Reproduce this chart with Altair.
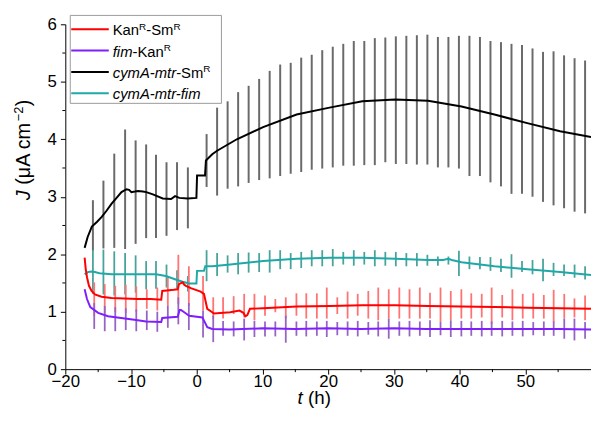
import altair as alt
import pandas as pd

# ---------------- data ----------------
NAMES = ["KanR-SmR", "fim-KanR", "cymA-mtr-SmR", "cymA-mtr-fim"]

red_t = [-17.06, -16.9, -16.7, -16.4, -16.0, -15.5, -14.5, -13.0, -11.0, -9.0,
         -7.0, -5.4, -5.25, -3.5, -2.9, -2.7, -2.15, -1.9, -1.65, -0.9,
         0.6, 1.1, 1.6, 2.36, 2.6, 5.1, 6.5, 7.1, 7.4, 7.7,
         8.1, 10.1, 15.2, 20.2, 25.2, 30.2, 35.2, 40.3, 45.3, 50.3, 55.3, 60.0]
red_v = [1.94, 1.75, 1.60, 1.45, 1.36, 1.30, 1.26, 1.24, 1.23, 1.22,
         1.22, 1.21, 1.36, 1.38, 1.39, 1.48, 1.51, 1.47, 1.45, 1.41,
         1.35, 1.31, 1.05, 0.99, 0.97, 0.99, 1.02, 0.98, 0.92, 0.94,
         1.05, 1.06, 1.09, 1.10, 1.11, 1.11, 1.10, 1.09, 1.08, 1.07, 1.06, 1.05]

purple_t = [-17.06, -16.7, -16.2, -15.0, -13.5, -11.5, -9.5, -7.7, -5.4, -5.25,
            -2.9, -2.6, -2.4, -1.9, -1.15, 0.86, 1.6, 2.36, 5.0, 10.0,
            15.0, 20.0, 25.0, 30.0, 35.0, 40.0, 45.0, 50.0, 55.0, 60.0]
purple_v = [1.39, 1.22, 1.08, 0.98, 0.92, 0.89, 0.86, 0.83, 0.82, 0.89,
            0.91, 1.03, 1.03, 0.99, 0.93, 0.90, 0.73, 0.70, 0.69, 0.71,
            0.70, 0.71, 0.70, 0.71, 0.70, 0.70, 0.70, 0.70, 0.70, 0.69]

black_t = [-17.06, -16.6, -15.96, -15.2, -14.46, -13.7, -12.95, -12.2, -11.45, -10.69,
           -10.3, -9.94, -9.4, -8.93, -8.2, -7.68, -6.67, -5.17, -3.9, -3.3,
           -2.65, -1.4, -0.05, 0.05, 1.26, 1.4, 2.36, 3.1, 6.1, 10.1,
           15.2, 20.2, 25.2, 30.2, 35.2, 40.3, 45.3, 50.3, 55.3, 60.0]
black_v = [2.11, 2.30, 2.48, 2.56, 2.65, 2.76, 2.88, 2.98, 3.08, 3.13,
           3.12, 3.08, 3.09, 3.10, 3.09, 3.08, 3.04, 2.97, 2.96, 3.01,
           2.98, 2.97, 2.98, 3.37, 3.37, 3.63, 3.74, 3.80, 4.00, 4.21,
           4.43, 4.55, 4.66, 4.69, 4.67, 4.57, 4.43, 4.28, 4.14, 4.04]

teal_t = [-17.06, -16.5, -16.0, -15.5, -14.8, -12.95, -10.0, -8.2, -6.2, -4.7,
          -3.2, -2.15, -1.15, -0.05, 0.05, 1.1, 1.3, 2.36, 5.1, 10.1,
          15.2, 20.2, 25.2, 30.2, 35.2, 37.5, 38.3, 38.8, 40.3, 45.3,
          50.3, 55.3, 60.0]
teal_v = [1.65, 1.69, 1.70, 1.69, 1.67, 1.65, 1.65, 1.65, 1.65, 1.62,
          1.56, 1.52, 1.49, 1.49, 1.71, 1.71, 1.79, 1.79, 1.82, 1.88,
          1.92, 1.94, 1.94, 1.92, 1.90, 1.90, 1.92, 1.90, 1.86, 1.79,
          1.74, 1.69, 1.64]

# error bars (t, low end, high end)
bk_bar_t = [-15.8, -14.2, -12.55, -10.9, -9.3, -7.7, -6.2, -4.6, -3.0, -1.35,
            1.5, 3.1, 4.7, 6.3, 7.9, 9.5, 11.1, 12.7, 14.3, 15.9,
            17.5, 19.1, 20.7, 22.3, 23.9, 25.5, 27.1, 28.7, 30.3, 31.9,
            33.5, 35.1, 36.7, 38.3, 39.9, 41.5, 43.1, 44.7, 46.3, 47.9,
            49.5, 51.1, 52.7, 54.3, 55.9, 57.5, 59.1]
black_lo = [2.06, 2.10, 2.11, 2.09, 2.18, 2.28, 2.28, 2.32, 2.42, 2.45,
            3.17, 3.02, 3.14, 3.18, 3.24, 3.29, 3.32, 3.36, 3.40, 3.43,
            3.47, 3.49, 3.51, 3.54, 3.54, 3.55, 3.55, 3.60, 3.57, 3.57,
            3.56, 3.56, 3.51, 3.51, 3.49, 3.36, 3.36, 3.25, 3.18, 3.05,
            3.05, 3.00, 2.91, 2.85, 2.80, 2.74, 2.71]
black_hi = [2.94, 3.28, 3.75, 4.17, 3.98, 3.91, 3.73, 3.60, 3.60, 3.51,
            4.09, 4.55, 4.66, 4.82, 4.93, 5.05, 5.19, 5.30, 5.33, 5.42,
            5.47, 5.55, 5.61, 5.66, 5.71, 5.71, 5.76, 5.77, 5.79, 5.80,
            5.81, 5.82, 5.78, 5.78, 5.80, 5.80, 5.78, 5.71, 5.69, 5.66,
            5.64, 5.58, 5.52, 5.53, 5.46, 5.41, 5.37]
teal_lo = [1.31, 1.30, 1.28, 1.30, 1.33, 1.39, 1.40, 1.42, 1.40, 1.35,
           1.53, 1.62, 1.68, 1.65, 1.68, 1.69, 1.68, 1.74, 1.74, 1.76,
           1.79, 1.79, 1.79, 1.82, 1.80, 1.82, 1.79, 1.80, 1.79, 1.79,
           1.79, 1.80, 1.80, 1.82, 1.62, 1.74, 1.74, 1.71, 1.69, 1.59,
           1.69, 1.65, 1.53, 1.62, 1.62, 1.59, 1.56]
teal_hi = [2.07, 2.08, 2.05, 2.02, 1.98, 1.88, 1.88, 1.82, 1.72, 1.62,
           2.07, 2.02, 1.98, 2.02, 2.03, 2.02, 2.07, 2.07, 2.02, 2.04,
           2.07, 2.07, 2.09, 2.04, 2.07, 2.04, 2.07, 2.04, 2.04, 2.02,
           2.02, 1.99, 1.96, 1.96, 2.06, 1.96, 1.95, 1.95, 1.92, 2.00,
           1.88, 1.90, 1.92, 1.85, 1.82, 1.82, 1.79]

rp_bar_t = [-15.6, -14.0, -12.4, -10.8, -9.2, -7.6, -6.0, -4.4, -2.8, -1.2,
            0.96, 2.51, 4.01, 5.62, 7.22, 8.78, 10.39, 11.96, 13.55, 15.17,
            16.67, 18.28, 19.79, 21.39, 22.96, 24.5, 26.11, 27.62, 29.22, 30.83,
            32.38, 33.95, 35.5, 37.1, 38.66, 40.27, 41.78, 43.37, 44.88, 46.49,
            48.04, 49.61, 51.21, 52.82, 54.32, 55.93, 57.48, 59.1]
red_lo = [0.93, 0.97, 0.99, 0.98, 1.00, 1.05, 1.02, 1.10, 1.13, 1.10,
          1.02, 0.88, 0.88, 0.96, 0.90, 0.85, 0.93, 0.99, 0.88, 0.93,
          0.88, 0.88, 0.88, 0.96, 0.88, 0.93, 0.88, 0.85, 0.88, 0.88,
          0.88, 0.88, 0.88, 0.82, 0.85, 0.88, 0.88, 0.90, 0.79, 0.90,
          0.85, 0.88, 0.88, 0.88, 0.82, 0.88, 0.90, 0.85]
red_hi = [1.51, 1.48, 1.45, 1.47, 1.44, 1.39, 1.42, 1.62, 1.99, 1.79,
          1.62, 1.25, 1.25, 1.27, 1.31, 1.31, 1.28, 1.22, 1.25, 1.32,
          1.32, 1.32, 1.42, 1.25, 1.35, 1.31, 1.36, 1.42, 1.39, 1.42,
          1.39, 1.42, 1.33, 1.42, 1.36, 1.39, 1.32, 1.31, 1.42, 1.29,
          1.39, 1.31, 1.32, 1.29, 1.38, 1.31, 1.23, 1.28]
purple_lo = [0.70, 0.66, 0.66, 0.68, 0.66, 0.68, 0.65, 0.72, 0.78, 0.68,
             0.55, 0.47, 0.58, 0.57, 0.50, 0.56, 0.57, 0.57, 0.46, 0.58,
             0.57, 0.58, 0.56, 0.59, 0.58, 0.57, 0.60, 0.57, 0.53, 0.58,
             0.57, 0.58, 0.56, 0.59, 0.56, 0.57, 0.58, 0.57, 0.58, 0.57,
             0.58, 0.57, 0.59, 0.58, 0.58, 0.53, 0.50, 0.53]
purple_hi = [1.15, 1.10, 1.08, 1.06, 1.04, 1.02, 1.00, 1.10, 1.25, 1.15,
             1.02, 0.93, 0.84, 0.83, 0.88, 0.84, 0.83, 0.83, 0.93, 0.83,
             0.84, 0.83, 0.84, 0.82, 0.83, 0.84, 0.82, 0.83, 0.88, 0.83,
             0.84, 0.83, 0.85, 0.82, 0.85, 0.84, 0.83, 0.84, 0.83, 0.84,
             0.83, 0.84, 0.82, 0.83, 0.83, 0.88, 0.88, 0.82]

x_ticks = [-20, -10, 0, 10, 20, 30, 40, 50]
x_minor = [-15, -5, 5, 15, 25, 35, 45, 55]
y_ticks = [0, 1, 2, 3, 4, 5, 6]
y_minor = [0.5, 1.5, 2.5, 3.5, 4.5, 5.5]

# ---------------- style ----------------
FONT = "Liberation Sans"
W, H = 532, 349
LINE_COL = {"red": "#ff0000", "purple": "#7f1fff", "black": "#000000", "teal": "#1fa9a6"}
BAR_COL = {"red": "#ff7373", "purple": "#9665c4", "black": "#6a6a6a", "teal": "#48a39c"}

xaxis = alt.Axis(values=x_ticks, title="", grid=False, tickSize=5, tickColor="black",
                 domainColor="black", labelColor="black", labelFont=FONT,
                 labelFontSize=17, labelPadding=0, labelFlush=False)
yaxis = alt.Axis(values=y_ticks, title="", grid=False, tickSize=5, tickColor="black",
                 domainColor="black", labelColor="black", labelFont=FONT,
                 labelFontSize=17, labelPadding=4)
xscale = alt.Scale(domain=[-20, 60], nice=False, zero=False)
yscale = alt.Scale(domain=[0, 6], nice=False, zero=False)


def X(f):
    return alt.X(f, type="quantitative", scale=xscale, axis=xaxis)


def Y(f):
    return alt.Y(f, type="quantitative", scale=yscale, axis=yaxis)


def line_layer(t, v, key):
    df = pd.DataFrame({"t": t, "v": v, "i": list(range(len(t)))})
    return alt.Chart(df).mark_line(color=LINE_COL[key], strokeWidth=2).encode(
        x=X("t"), y=Y("v"), order=alt.Order("i:Q"))


def bar_layer(t, lo, hi, key, width=1.8):
    df = pd.DataFrame({"t": t, "lo": lo, "hi": hi})
    return alt.Chart(df).mark_rule(color=BAR_COL[key], strokeWidth=width).encode(
        x=X("t"), y=Y("lo"), y2=alt.Y2("hi"))


layers = [
    bar_layer(bk_bar_t, black_lo, black_hi, "black", 2),
    bar_layer(bk_bar_t, teal_lo, teal_hi, "teal"),
    bar_layer(rp_bar_t, red_lo, red_hi, "red"),
    bar_layer(rp_bar_t, purple_lo, purple_hi, "purple"),
    line_layer(black_t, black_v, "black"),
    line_layer(teal_t, teal_v, "teal"),
    line_layer(red_t, red_v, "red"),
    line_layer(purple_t, purple_v, "purple"),
]

# minor ticks
layers.append(alt.Chart(pd.DataFrame({"t": x_minor})).mark_rule(color="black", strokeWidth=1).encode(
    x=X("t"), y=alt.value(H), y2=alt.value(H + 3)))
layers.append(alt.Chart(pd.DataFrame({"v": y_minor})).mark_rule(color="black", strokeWidth=1).encode(
    y=Y("v"), x=alt.value(0), x2=alt.value(-3)))

# ---------------- text helpers ----------------
ADV = {' ': 278, '(': 333, ')': 333, '-': 333, 'A': 667, 'K': 667, 'R': 722,
       'S': 667, 'J': 500, 'a': 556, 'c': 500, 'f': 278, 'h': 556, 'i': 222, 'm': 833,
       'n': 556, 'r': 333, 't': 278, 'y': 500, 'μ': 576, '−': 584, '2': 556}


def tw(s, size):
    return sum(ADV.get(ch, 556) for ch in s) * size / 1000.0


dummy = pd.DataFrame({"a": [0]})


def text(s, x, y, size, italic=False, angle=None):
    kw = dict(align="left", baseline="alphabetic", font=FONT, fontSize=size, color="black")
    if italic:
        kw["fontStyle"] = "italic"
    if angle is not None:
        kw["angle"] = angle
    return alt.Chart(dummy).mark_text(**kw).encode(
        x=alt.value(x), y=alt.value(y), text=alt.value(s))


# ---------------- legend ----------------
LEG_FS, SUP_FS = 15, 10
layers.append(alt.Chart(dummy).mark_rect(fill="white", stroke="#9a9a9a", strokeWidth=1).encode(
    x=alt.value(5), x2=alt.value(158), y=alt.value(-9), y2=alt.value(80)))
legend_rows = [
    ("red", [("Kan", "n"), ("R", "s"), ("-Sm", "n"), ("R", "s")]),
    ("purple", [("fim", "i"), ("-Kan", "n"), ("R", "s")]),
    ("black", [("cymA-mtr", "i"), ("-Sm", "n"), ("R", "s")]),
    ("teal", [("cymA-mtr-fim", "i")]),
]
for k, (key, segs) in enumerate(legend_rows):
    ry = 5 + 21.6 * k
    layers.append(alt.Chart(dummy).mark_rule(color=LINE_COL[key], strokeWidth=2).encode(
        x=alt.value(6), x2=alt.value(44), y=alt.value(ry)))
    cx = 48
    for s, st in segs:
        if st == "s":
            layers.append(text(s, cx, ry + 0.5, SUP_FS))
            cx += tw(s, SUP_FS)
        else:
            layers.append(text(s, cx, ry + 6, LEG_FS, italic=(st == "i")))
            cx += tw(s, LEG_FS)

# ---------------- axis titles ----------------
TFS = 20
XFS = 19
layers.append(text("t", 235, 384, XFS, italic=True))
layers.append(text("(h)", 235 + tw("t ", XFS), 384, XFS))

# segments: (text, kind, gap before it in px)
ytitle = [("J", "i", 0), ("(μA cm", "n", tw(" ", TFS)), ("−2", "s", 0.5), (")", "n", 0.5)]
cy = 178
for s, st, gap in ytitle:
    cy -= gap
    if st == "s":
        layers.append(text(s, -43, cy, 13, angle=270))
        cy -= tw(s, 13)
    else:
        layers.append(text(s, -36, cy, TFS, italic=(st == "i"), angle=270))
        cy -= tw(s, TFS)

chart = alt.layer(*layers).properties(
    width=W, height=H,
    autosize=alt.AutoSizeParams(type="none"),
    padding={"left": 58, "top": 14, "right": 0, "bottom": 53},
).configure_view(strokeWidth=0)

chart.save("out.html", embed_options={"renderer": "svg", "actions": False})
